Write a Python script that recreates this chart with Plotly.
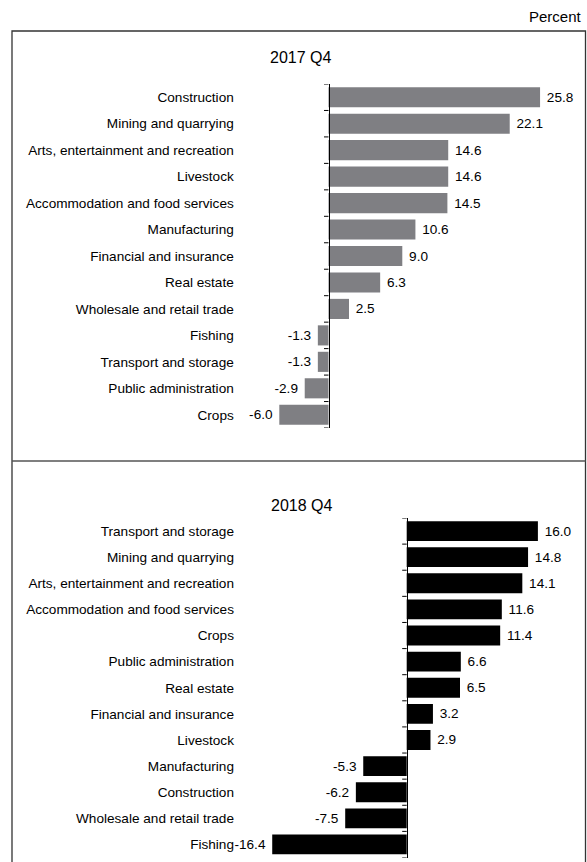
import plotly.graph_objects as go

# ---- data ----
cats_2017 = ["Construction", "Mining and quarrying", "Arts, entertainment and recreation",
             "Livestock", "Accommodation and food services", "Manufacturing",
             "Financial and insurance", "Real estate", "Wholesale and retail trade",
             "Fishing", "Transport and storage", "Public administration", "Crops"]
vals_2017 = [25.8, 22.1, 14.6, 14.6, 14.5, 10.6, 9.0, 6.3, 2.5, -1.3, -1.3, -2.9, -6.0]

cats_2018 = ["Transport and storage", "Mining and quarrying", "Arts, entertainment and recreation",
             "Accommodation and food services", "Crops", "Public administration",
             "Real estate", "Financial and insurance", "Livestock", "Manufacturing",
             "Construction", "Wholesale and retail trade", "Fishing"]
vals_2018 = [16.0, 14.8, 14.1, 11.6, 11.4, 6.6, 6.5, 3.2, 2.9, -5.3, -6.2, -7.5, -16.4]

panel_titles = ["2017 Q4", "2018 Q4"]
unit_label = "Percent"

W, H = 587, 862
FONT = "Liberation Sans, Arial, Helvetica, sans-serif"
NB = "\u00a0"


def fmt(vals):
    return [(NB + f"{v:.1f}") if v >= 0 else (f"{v:.1f}" + NB) for v in vals]


def px(x):
    return x / W


def py(y):
    return 1 - y / H


SCALE = 8.2  # px per unit
zero1, zero2 = 328.5, 406.7
n = len(cats_2017)
boundaries = [i - 0.5 for i in range(n + 1)]
dom1 = [py(428), py(84)]
dom2 = [py(857.5), py(518)]

fig = go.Figure()
fig.add_trace(go.Bar(
    x=vals_2017, y=cats_2017, orientation="h", xaxis="x", yaxis="y",
    marker=dict(color="#7f7f83", line=dict(width=0)),
    text=fmt(vals_2017), textposition="outside", constraintext="none",
    textfont=dict(family=FONT, size=13.6, color="black"), cliponaxis=False,
    hoverinfo="x+y", showlegend=False))
fig.add_trace(go.Bar(
    x=vals_2018, y=cats_2018, orientation="h", xaxis="x2", yaxis="y2",
    marker=dict(color="black", line=dict(width=0)),
    text=fmt(vals_2018), textposition="outside", constraintext="none",
    textfont=dict(family=FONT, size=13.6, color="black"), cliponaxis=False,
    hoverinfo="x+y", showlegend=False))

yax_common = dict(type="category", range=[n - 0.5, -0.5], showline=True, linecolor="black",
                  linewidth=1, ticks="", showgrid=False, zeroline=False, anchor="free",
                  tickfont=dict(family=FONT, size=13.6, color="black"), fixedrange=True)

# boundary tick marks: short lines left of the zero line, at category boundaries
tick_shapes = []
for xr, yr in (("x", "y"), ("x2", "y2")):
    for b in boundaries:
        tick_shapes.append(dict(type="line", xref=xr, yref=yr, xsizemode="pixel", xanchor=0,
                                x0=-4.5, x1=0, y0=b, y1=b,
                                line=dict(color="black", width=1)))

fig.update_layout(
    width=W, height=H, margin=dict(l=0, r=0, t=0, b=0),
    paper_bgcolor="white", plot_bgcolor="rgba(0,0,0,0)",
    bargap=0.24, showlegend=False,
    xaxis=dict(domain=[0, 1], range=[-zero1 / SCALE, (W - zero1) / SCALE], visible=False,
               anchor="y", fixedrange=True),
    xaxis2=dict(domain=[0, 1], range=[-zero2 / SCALE, (W - zero2) / SCALE], visible=False,
                anchor="y2", fixedrange=True),
    yaxis=dict(domain=dom1, position=px(zero1), ticklabelstandoff=92, **yax_common),
    yaxis2=dict(domain=dom2, position=px(zero2), ticklabelstandoff=170, **yax_common),
    shapes=[
        dict(type="rect", xref="paper", yref="paper", x0=px(12), x1=px(585.5), y0=-0.02, y1=py(31),
             line=dict(color="#333333", width=1.3), fillcolor="rgba(0,0,0,0)", layer="below"),
        dict(type="line", xref="paper", yref="paper", x0=px(12), x1=px(585.5), y0=py(461), y1=py(461),
             line=dict(color="#555555", width=1.3)),
    ] + tick_shapes,
    annotations=[
        dict(text=panel_titles[0], xref="paper", yref="paper", x=px(300), y=py(57),
             xanchor="center", yanchor="middle", showarrow=False,
             font=dict(family=FONT, size=16, color="black")),
        dict(text=panel_titles[1], xref="paper", yref="paper", x=px(301), y=py(505),
             xanchor="center", yanchor="middle", showarrow=False,
             font=dict(family=FONT, size=16, color="black")),
        dict(text=unit_label, xref="paper", yref="paper", x=px(584), y=py(17),
             xanchor="right", yanchor="middle", showarrow=False,
             font=dict(family=FONT, size=15, color="black")),
    ],
)

fig.write_html("out.html", config={"displayModeBar": False},
               post_script="document.body.style.margin='0';document.body.style.overflow='hidden';")
